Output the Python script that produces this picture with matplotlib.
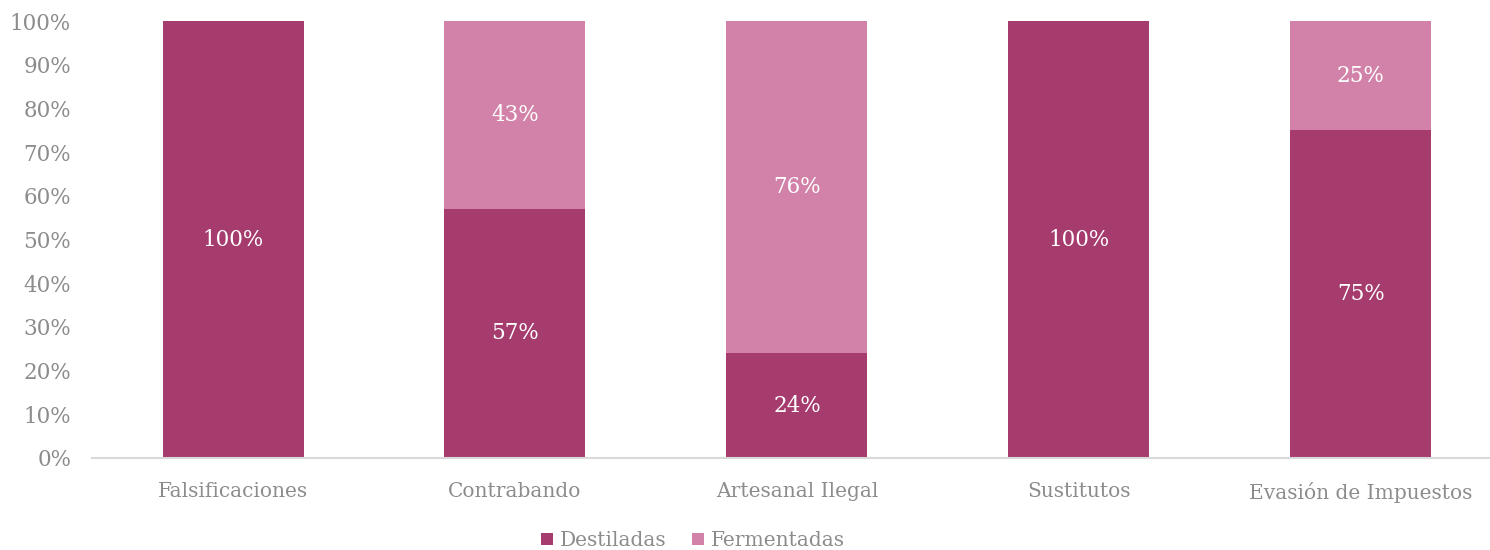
import matplotlib.pyplot as plt
import numpy as np

# ----- Data -----
categories = ['Falsificaciones', 'Contrabando', 'Artesanal Ilegal', 'Sustitutos', 'Evasión de Impuestos']
destiladas = [100, 57, 24, 100, 75]
fermentadas = [0, 43, 76, 0, 25]
yticks = [0, 10, 20, 30, 40, 50, 60, 70, 80, 90, 100]

# ----- Style -----
DARK = '#A63B6E'
LIGHT = '#D282A8'
GREY = '#8C8C8C'
plt.rcParams['font.family'] = ['DejaVu Serif']

fig = plt.figure(figsize=(14.9, 5.5), dpi=100)
ax = fig.add_axes([92 / 1490, 92 / 550, 1410 / 1490, 437 / 550])

x = np.arange(len(categories))
width = 0.5
ax.bar(x, destiladas, width, color=DARK, label='Destiladas')
ax.bar(x, fermentadas, width, bottom=destiladas, color=LIGHT, label='Fermentadas')

# data labels, skip empty segments
for i in range(len(categories)):
    if destiladas[i] > 0:
        ax.text(x[i], destiladas[i] / 2, f'{destiladas[i]}%', ha='center', va='center',
                color='white', fontsize=15.5)
    if fermentadas[i] > 0:
        ax.text(x[i], destiladas[i] + fermentadas[i] / 2, f'{fermentadas[i]}%', ha='center',
                va='center', color='white', fontsize=15.5)

ax.set_xlim(-0.5, len(categories) - 0.5)
ax.set_ylim(0, 100)
ax.set_yticks(yticks)
ax.set_yticklabels([f'{v}%' for v in yticks])
ax.set_xticks(x)
ax.set_xticklabels(categories)
ax.tick_params(axis='both', length=0, colors=GREY)
ax.tick_params(axis='x', pad=17, labelsize=14.5)
ax.tick_params(axis='y', pad=15, labelsize=15.5)

for side in ['top', 'right', 'left']:
    ax.spines[side].set_visible(False)
ax.spines['bottom'].set_color('#D9D9D9')
ax.spines['bottom'].set_linewidth(1.5)

leg = fig.legend(loc='center', bbox_to_anchor=(0.465, 0.017), ncol=2, frameon=False,
                 fontsize=14.5, handlelength=0.6, handleheight=0.6, handletextpad=0.3,
                 columnspacing=1.3, borderpad=0)
for t in leg.get_texts():
    t.set_color(GREY)

fig.savefig('out.png', dpi=100)
